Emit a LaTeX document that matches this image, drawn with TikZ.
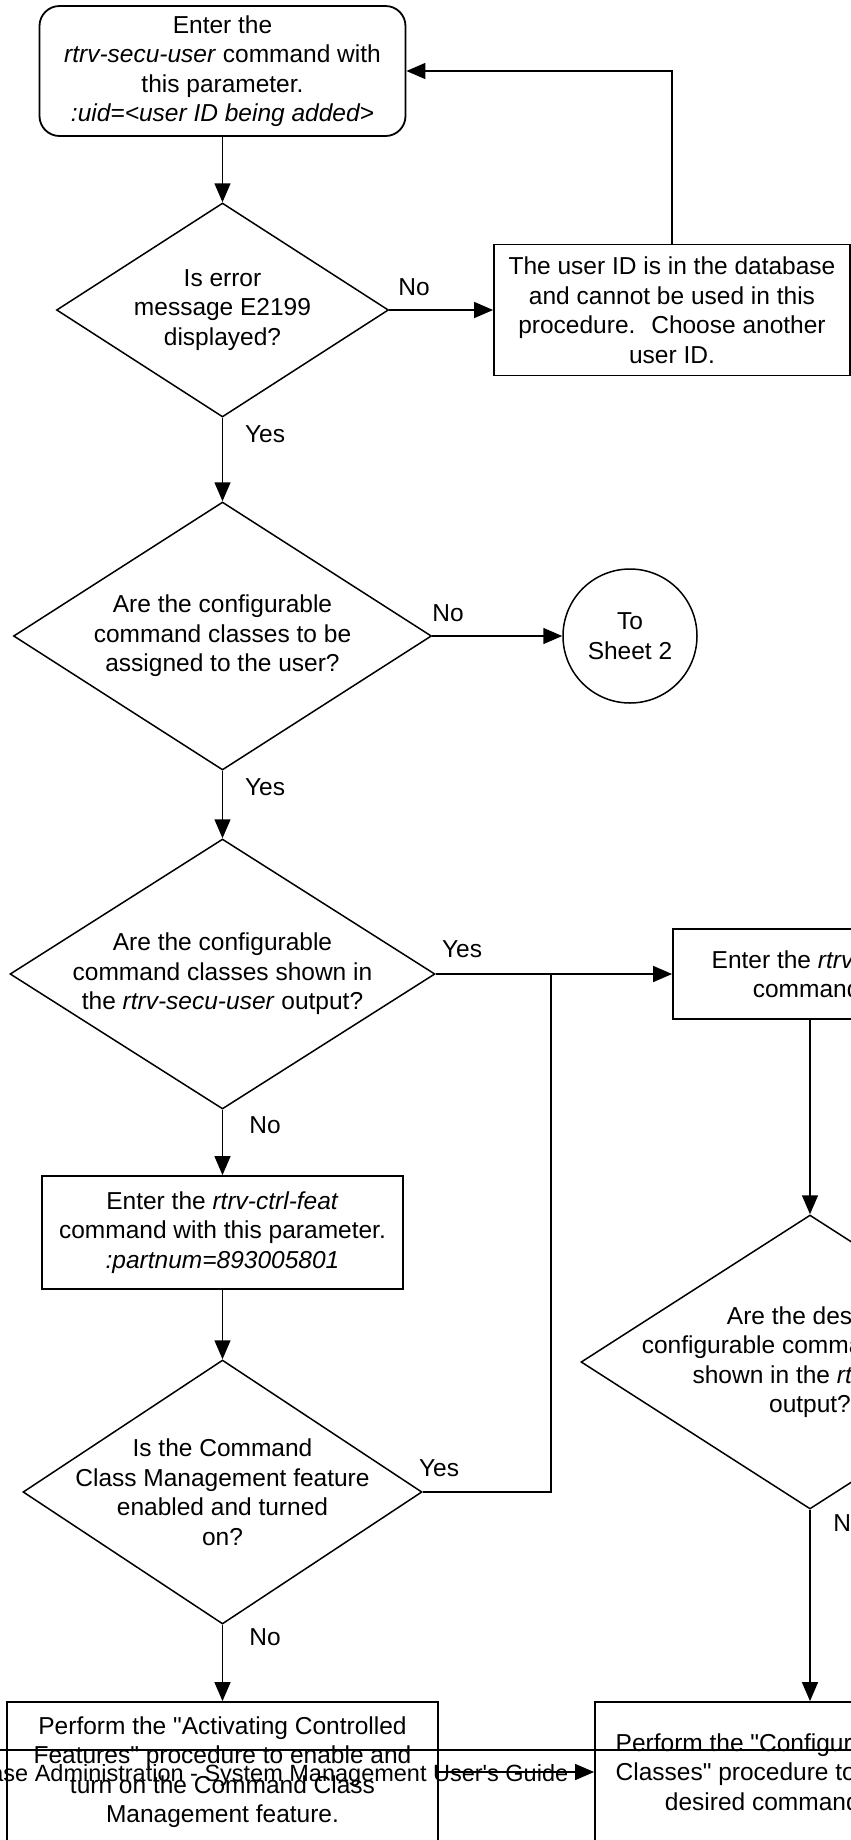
\documentclass[tikz,border=0pt]{standalone}
\usepackage{fontspec}
\setmainfont{Liberation Sans}
\usetikzlibrary{arrows.meta,shapes.geometric}
\begin{document}
\begin{tikzpicture}[x=1pt, y=-1pt, line width=1.5pt, >={Triangle[length=19pt,width=16pt]},
    font=\fontsize{24.5}{29.5}\selectfont,
    proc/.style={draw, line width=1.8pt, align=center, inner sep=0pt},
    dec/.style={draw, diamond, aspect=1.6, inner sep=0pt},
    dtxt/.style={align=center, inner sep=0pt},
    yn/.style={inner sep=0pt}]
    \fill[white] (0,0) rectangle (851,1840);
    \useasboundingbox (0,0) rectangle (851,1840);
    \clip (0,0) rectangle (851,1840);
    \node[proc, rounded corners=20pt, minimum width=366pt, minimum height=130pt] (start) at (222.5,71) {Enter the\\\textit{rtrv-secu-user} command with\\this parameter.\\\textit{:uid=<user ID being added>}};
    \node[dec, minimum width=332pt, minimum height=214pt, label={[dtxt]center:Is error\\message E2199\\displayed?}] (err) at (222.5,310) {};
    \node[proc, minimum width=356pt, minimum height=131pt] (dbuse) at (672,310) {The user ID is in the database\\and cannot be used in this\\procedure.~ Choose another\\user ID.};
    \node[dec, minimum width=418pt, minimum height=268pt, label={[dtxt]center:Are the configurable\\command classes to be\\assigned to the user?}] (assign) at (222.5,636) {};
    \node[draw, circle, minimum size=134pt, align=center, inner sep=0pt] (sheet) at (630,636) {To\\Sheet 2};
    \node[dec, minimum width=425pt, minimum height=270pt, label={[dtxt]center:Are the configurable\\command classes shown in\\the \textit{rtrv-secu-user} output?}] (shown) at (222.5,974) {};
    \node[proc, minimum width=274pt, minimum height=90pt] (cmd) at (810,974) {Enter the \textit{rtrv-cmd}\\command.};
    \coordinate (jn) at (551,974);
    \node[proc, minimum width=361pt, minimum height=113pt] (ctrl) at (222.5,1232.5) {Enter the \textit{rtrv-ctrl-feat}\\command with this parameter.\\\textit{:partnum=893005801}};
    \node[dec, minimum width=399pt, minimum height=264pt, label={[dtxt]center:Is the Command\\Class Management feature\\enabled and turned\\on?}] (feat) at (222.5,1492) {};
    \node[dec, minimum width=458pt, minimum height=294pt, label={[dtxt]center:Are the desired\\configurable command classes\\shown in the \textit{rtrv-cmd}\\output?}] (desired) at (810,1362) {};
    \node[proc, minimum width=431pt, minimum height=140pt] (act) at (222.5,1772) {Perform the \textquotedbl{}Activating Controlled\\Features\textquotedbl{} procedure to enable and\\turn on the Command Class\\Management feature.};
    \node[proc, minimum width=430pt, minimum height=140pt] (conf) at (810,1772) {Perform the \textquotedbl{}Configuring Command\\Classes\textquotedbl{} procedure to configure the\\desired command classes.};
    \draw[->] (start) -- (err);
    \draw[->] (err) -- (dbuse);
    \draw[->] (dbuse.north) |- (start.east);
    \draw[->] (err) -- (assign);
    \draw[->] (assign) -- (sheet);
    \draw[->] (assign) -- (shown);
    \draw[->] (shown) -- (cmd);
    \draw[->] (shown) -- (ctrl);
    \draw[->] (ctrl) -- (feat);
    \draw (feat.east) -| (jn);
    \draw[->] (feat) -- (act);
    \draw[->] (cmd) -- (desired);
    \draw[->] (desired) -- (conf);
    \node[yn] (no1) at (414,287) {No};
    \node[yn] (yes1) at (265,434) {Yes};
    \node[yn] (no2) at (448,613) {No};
    \node[yn] (yes2) at (265,787) {Yes};
    \node[yn] (yes3) at (462,949) {Yes};
    \node[yn] (no3) at (265,1125) {No};
    \node[yn] (yes4) at (439,1468) {Yes};
    \node[yn] (no4) at (265,1637) {No};
    \node[yn] (no5) at (849,1523) {No};
    \draw (0,1750) -- (851,1750);
    \node[anchor=base east, inner sep=0pt, font=\fontsize{23.5}{28}\selectfont] (foot) at (569,1781) {Database Administration - System Management User\textquotesingle{}s Guide};
    \draw[->] (act) -- (conf);
\end{tikzpicture}
\end{document}
